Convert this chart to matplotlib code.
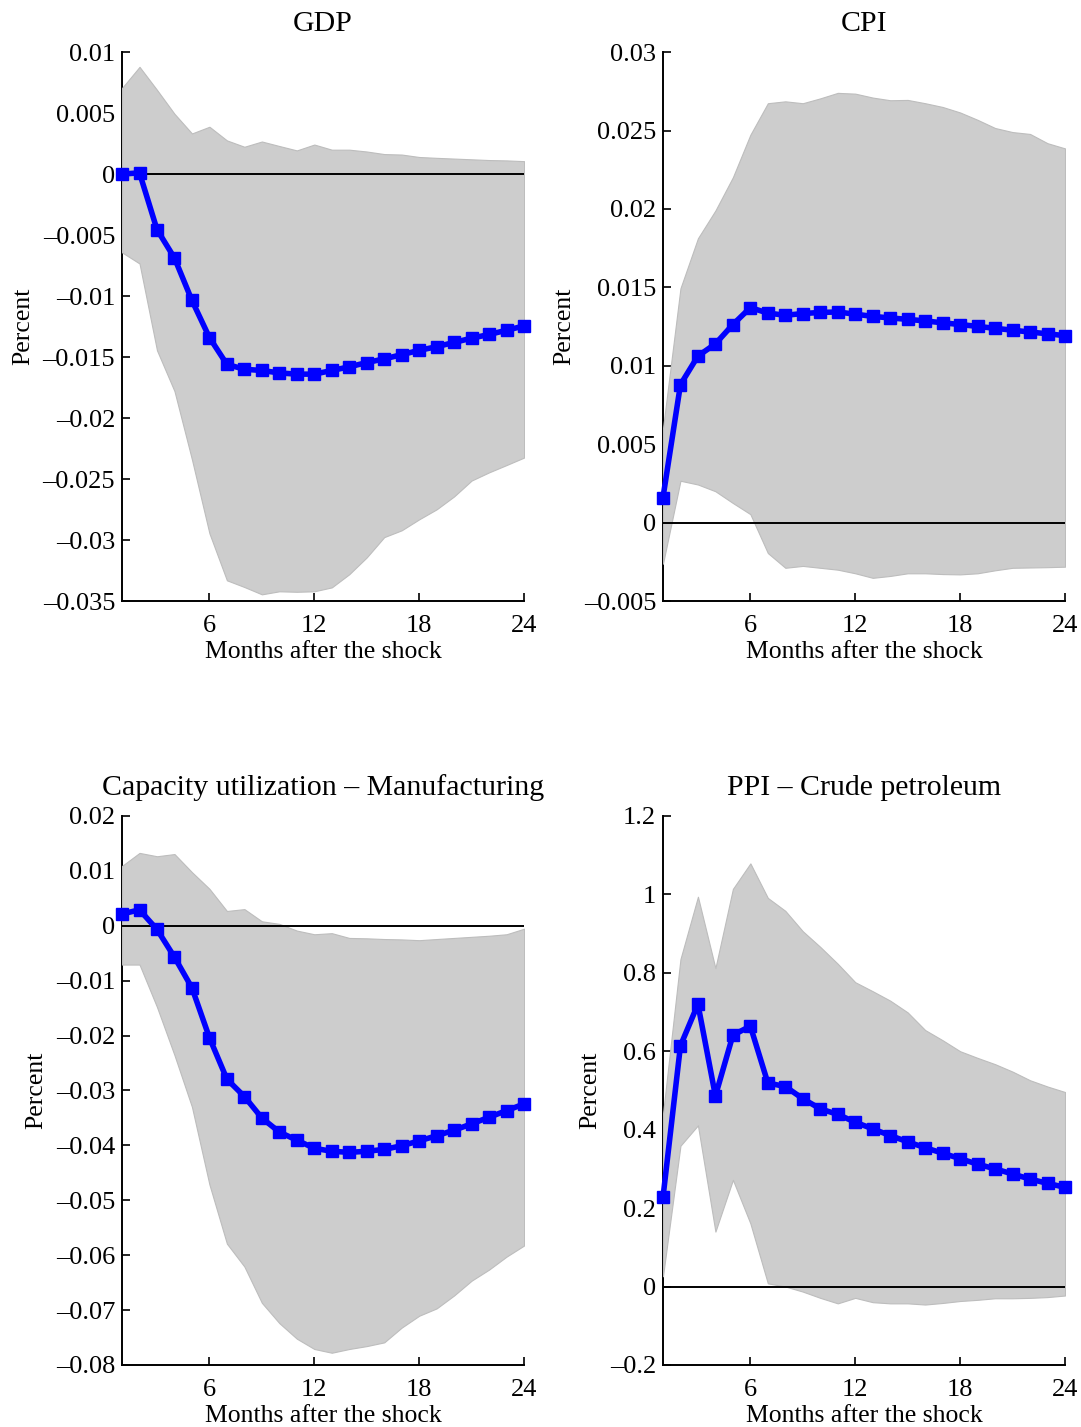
import matplotlib
matplotlib.use("Agg")
import matplotlib.pyplot as plt
import numpy as np

plt.rcParams["font.family"] = ["Liberation Serif", "DejaVu Serif"]

months = list(range(1, 25))

# impulse responses (median) and 68% bands
gdp_irf = [0.0, 0.0001, -0.00455, -0.00688, -0.01036, -0.0134, -0.0156, -0.0160,
           -0.0161, -0.0163, -0.0164, -0.0164, -0.0161, -0.0158, -0.01545, -0.01515,
           -0.0148, -0.01445, -0.01415, -0.0138, -0.01345, -0.01315, -0.0128, -0.01245]
gdp_hi = [0.00706, 0.00879, 0.0069, 0.00494, 0.00333, 0.00388, 0.00276, 0.00224,
          0.00267, 0.0023, 0.00194, 0.00242, 0.0020, 0.0020, 0.00185, 0.00164,
          0.0016, 0.0014, 0.00133, 0.00127, 0.00121, 0.00115, 0.00112, 0.00106]
gdp_lo = [-0.00642, -0.00733, -0.01445, -0.01779, -0.0234, -0.02945, -0.0333, -0.03385,
          -0.03445, -0.0342, -0.03424, -0.0342, -0.03388, -0.0328, -0.03142, -0.02976,
          -0.0292, -0.0283, -0.02748, -0.02642, -0.02512, -0.02445, -0.02385, -0.02324]

cpi_irf = [0.0016, 0.0088, 0.01062, 0.0114, 0.01263, 0.01371, 0.01336, 0.01322,
           0.01333, 0.0134, 0.01343, 0.01329, 0.01315, 0.01305, 0.01296, 0.01286,
           0.01274, 0.01263, 0.01251, 0.01239, 0.01227, 0.01215, 0.01204, 0.01192]
cpi_hi = [0.0060, 0.01494, 0.01813, 0.0199, 0.02202, 0.02473, 0.02674, 0.02686,
          0.02674, 0.02705, 0.0274, 0.02735, 0.0271, 0.02693, 0.02695, 0.02674,
          0.0265, 0.02615, 0.02568, 0.02516, 0.0249, 0.02478, 0.02419, 0.02386]
cpi_lo = [-0.00262, 0.00267, 0.00243, 0.0020, 0.00125, 0.00054, -0.00194, -0.00288,
          -0.00276, -0.00288, -0.0030, -0.00323, -0.00352, -0.0034, -0.00323, -0.00323,
          -0.00328, -0.0033, -0.00323, -0.00304, -0.00288, -0.00286, -0.00284, -0.00281]

cap_irf = [0.00215, 0.0029, -0.00067, -0.00572, -0.01131, -0.0204, -0.02795, -0.03111,
           -0.03502, -0.03758, -0.03906, -0.04054, -0.04108, -0.04128, -0.04108, -0.04074,
           -0.04007, -0.03919, -0.03825, -0.03724, -0.03609, -0.03488, -0.03367, -0.03246]
cap_hi = [0.0109, 0.01327, 0.01266, 0.01306, 0.00976, 0.00673, 0.00269, 0.00303,
          0.00081, 0.00034, -0.00088, -0.00155, -0.00135, -0.00222, -0.00229, -0.00242,
          -0.00249, -0.00263, -0.00242, -0.00222, -0.00202, -0.00182, -0.00155, -0.00054]
cap_lo = [-0.00707, -0.00707, -0.01481, -0.02357, -0.0330, -0.04714, -0.05791, -0.06209,
          -0.06869, -0.07239, -0.07522, -0.0771, -0.07778, -0.0771, -0.07657, -0.07589,
          -0.0732, -0.07104, -0.0697, -0.06734, -0.06465, -0.06263, -0.06027, -0.05825]

ppi_irf = [0.227, 0.614, 0.720, 0.486, 0.641, 0.664, 0.519, 0.510, 0.479, 0.453,
           0.439, 0.419, 0.402, 0.385, 0.369, 0.354, 0.340, 0.326, 0.312, 0.300,
           0.287, 0.274, 0.263, 0.253]
ppi_hi = [0.44, 0.835, 0.994, 0.812, 1.014, 1.079, 0.991, 0.958, 0.906, 0.866,
          0.823, 0.776, 0.753, 0.729, 0.699, 0.654, 0.628, 0.600, 0.583, 0.567,
          0.548, 0.526, 0.510, 0.496]
ppi_lo = [0.026, 0.359, 0.411, 0.140, 0.272, 0.161, 0.008, 0.0, -0.013, -0.029,
          -0.043, -0.029, -0.040, -0.043, -0.043, -0.046, -0.042, -0.037, -0.034, -0.030,
          -0.030, -0.029, -0.027, -0.023]

titles = ["GDP", "CPI", "Capacity utilization \u2013 Manufacturing", "PPI \u2013 Crude petroleum"]
ylims = [(-0.035, 0.01), (-0.005, 0.03), (-0.08, 0.02), (-0.2, 1.2)]
ysteps = [0.005, 0.005, 0.01, 0.2]
xticks = [6, 12, 18, 24]

panels = [
    (gdp_irf, gdp_lo, gdp_hi),
    (cpi_irf, cpi_lo, cpi_hi),
    (cap_irf, cap_lo, cap_hi),
    (ppi_irf, ppi_lo, ppi_hi),
]

# axes rectangles in figure fractions: left, bottom, width, height
rects = [
    [0.1129, 0.5788, 0.3719, 0.3847],
    [0.6133, 0.5788, 0.3719, 0.3847],
    [0.1129, 0.0435, 0.3719, 0.3847],
    [0.6133, 0.0435, 0.3719, 0.3847],
]


def fmt_tick(v):
    s = "%g" % v
    return s.replace("-", "\u2013")


fig = plt.figure(figsize=(10.81, 14.27), dpi=100)

for i, (irf, lo, hi) in enumerate(panels):
    ax = fig.add_axes(rects[i])
    ax.fill_between(months, lo, hi, facecolor="#cdcdcd", edgecolor="#bdbdbd",
                    linewidth=0.8, zorder=1)
    ax.axhline(0, color="black", linewidth=1.4, zorder=2)
    ax.plot(months, irf, color="#0000ff", linewidth=4.0, marker="s",
            markersize=9, zorder=3, clip_on=False)

    ax.set_xlim(1, 24)
    lo_lim, hi_lim = ylims[i]
    ax.set_ylim(lo_lim, hi_lim)
    n = int(round((hi_lim - lo_lim) / ysteps[i]))
    yt = [round(lo_lim + k * ysteps[i], 6) for k in range(n + 1)]
    ax.set_yticks(yt)
    ax.set_yticklabels([fmt_tick(v) for v in yt])
    ax.set_xticks(xticks)
    ax.set_xticklabels([str(t) for t in xticks])

    ax.spines["top"].set_visible(False)
    ax.spines["right"].set_visible(False)
    for side in ["left", "bottom"]:
        ax.spines[side].set_linewidth(1.4)
        ax.spines[side].set_zorder(0.5)
    ax.set_axisbelow(True)
    ax.tick_params(direction="in", length=6, width=1.2, labelsize=19)
    ax.tick_params(axis="x", pad=10)
    ax.tick_params(axis="y", pad=5)

    ax.set_title(titles[i], fontsize=21.5, pad=15)
    ax.set_xlabel("Months after the shock", fontsize=18.5, labelpad=3)
    ax.set_ylabel("Percent", fontsize=18.5, labelpad=6)

fig.savefig("out.png", dpi=100)
